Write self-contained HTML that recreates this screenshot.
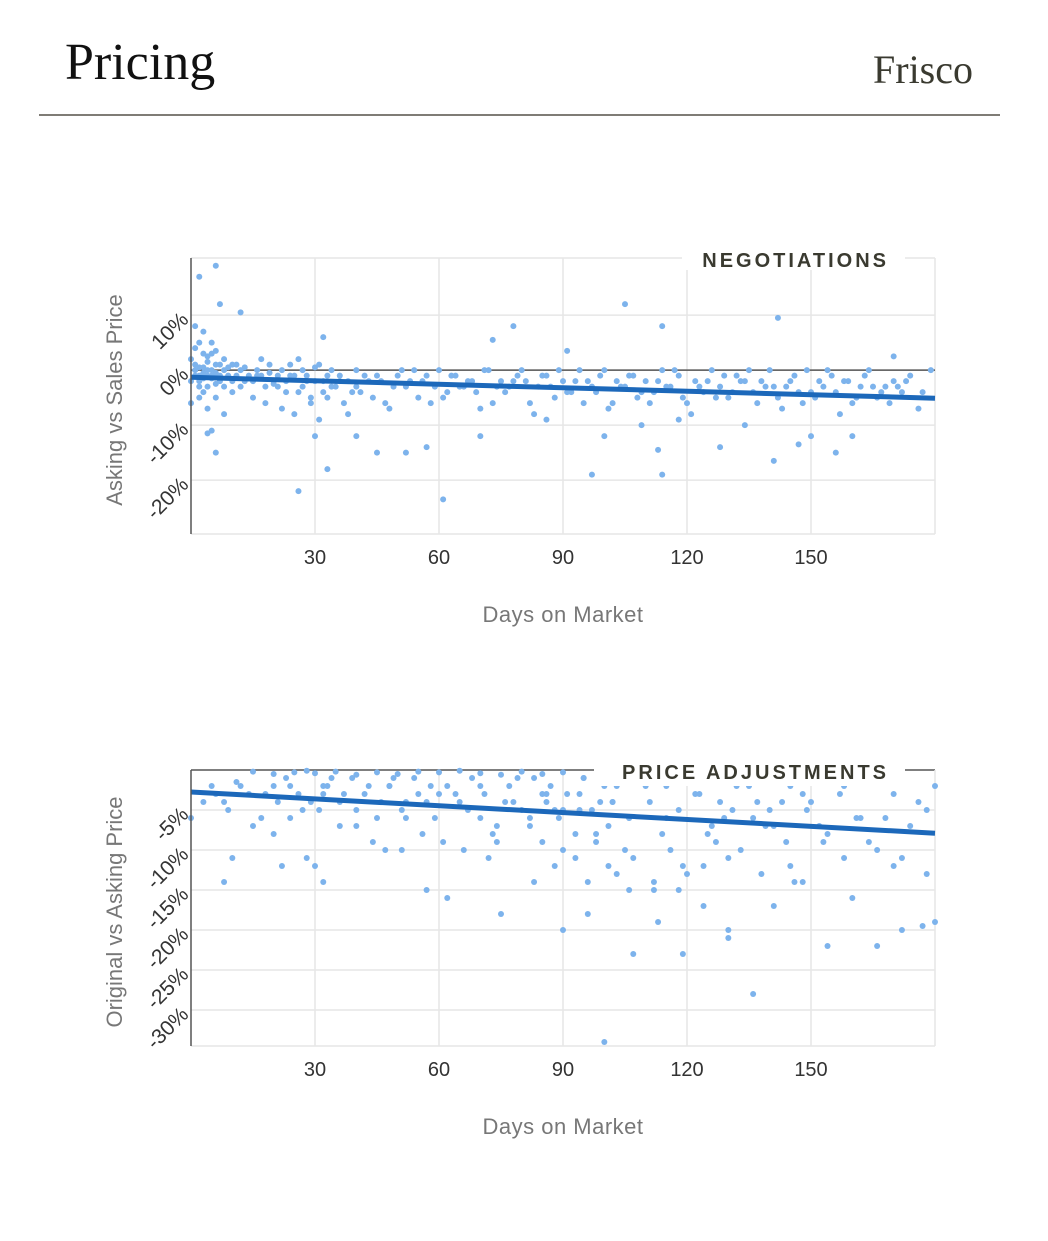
<!DOCTYPE html>
<html><head><meta charset="utf-8">
<style>
body{margin:0;background:#fff;width:1048px;height:1236px;overflow:hidden;}
svg text{font-family:"Liberation Sans",sans-serif;}
</style></head>
<body>
<svg id="root" width="1048" height="1236" viewBox="0 0 1048 1236" xmlns="http://www.w3.org/2000/svg">
<text x="65" y="79" style="font-family:'Liberation Serif',serif" font-size="52" fill="#111">Pricing</text>
<text x="973" y="83" text-anchor="end" style="font-family:'Liberation Serif',serif" font-size="40" fill="#3a3a30">Frisco</text>
<line x1="39" y1="115" x2="1000" y2="115" stroke="#555048" stroke-width="1.5"/>
<g id="c1"></g>
<g id="c2"></g>
</svg>
<script>
const days1=[0,1,1,2,2,3,3,4,4,5, 0,1,2,2,3,4,5,5,6,6, 1,2,3,4,5,6,7,7,8,8, 3,4,5,6,7,8,9,9,10,10,
0,2,4,6,8,10,11,12,13,14, 11,12,13,14,15,16,17,18,19,20, 15,16,17,18,19,20,21,22,23,24, 21,22,23,24,25,26,27,28,29,30,
25,26,27,28,29,30,31,32,33,34, 31,32,33,34,35,36,37,38,39,40, 36,38,40,42,44,46,48,50,52,54, 41,43,45,47,49,51,53,55,57,59,
56,58,60,62,64,66,68,70,72,74, 61,63,65,67,69,71,73,75,77,79, 76,78,80,82,84,86,88,90,92,94, 81,83,85,87,89,91,93,95,97,99,
96,98,100,102,104,106,108,110,112,114, 101,103,105,107,109,111,113,115,117,119, 116,118,120,122,124,126,128,130,132,134,
121,123,125,127,129,131,133,135,137,139, 136,138,140,142,144,146,148,150,152,154, 141,143,145,147,149,151,153,155,157,159,
156,158,160,162,164,166,168,170,172,174, 161,165,169,173,177,179,176,171,163,167,
2,6,7,12,1,3,5,6,4,26, 61,105,114,142,78,73,32,97,114,33, 147,141,156,160,113,128,91,170,40,52, 57,70,86,100,109,118,134,150,30,45];
const pct1=[2,-1,4,0.5,-2,3,-0.5,1.5,-3,0, -2,1,-1,5,-1.5,2.5,-1,3,1,-2.5, 0,-3,0.5,-1,5,-0.5,1,-2,0,2, -4,0,-1.5,3.5,-1,-3,0.5,-1,1,-2,
-6,-5,-7,-5,-8,-4,-1,0,-2,-1, 1,-3,0.5,-1.5,-2,0,-1,-3,1,-2, -5,-1,2,-6,-0.5,-2.5,-1,0,-4,-1, -3,-7,-2,1,-1,-4,0,-2,-5,0.5,
-8,2,-3,-1,-6,-2,1,-4,-1,-3, -9,-2,-5,0,-3,-1,-6,-2,-4,0, -2,-8,-3,-1,-5,-2,-7,-1,-3,0, -4,-2,-1,-6,-3,0,-2,-5,-1,-3,
-2,-6,0,-4,-1,-3,-2,-7,0,-3, -5,-1,-3,-2,-4,0,-6,-2,-3,-1, -4,-2,0,-6,-3,-1,-5,-2,-4,0, -2,-8,-1,-3,0,-4,-2,-6,-3,-1,
-2,-4,0,-6,-3,-1,-5,-2,-4,0, -7,-2,-3,-1,-4,-6,-2,-3,0,-5, -3,-1,-6,-2,-4,0,-3,-5,-1,-2,
-8,-3,-2,-5,-1,-4,-2,0,-6,-3, -4,-2,0,-5,-3,-1,-6,-4,-2,0, -3,-7,-2,-4,0,-5,-3,-1,-8,-2,
-4,-2,-6,-3,0,-5,-3,-2,-4,-1, -5,-3,-6,-2,-4,0,-7,-3,-1,-4,
17,19,12,10.5,8,7,-11,-15,-11.5,-22, -23.5,12,8,9.5,8,5.5,6,-19,-19,-18, -13.5,-16.5,-15,-12,-14.5,-14,3.5,2.5,-12,-15, -14,-12,-9,-12,-10,-9,-10,-12,-12,-15];
const trend1=[-1.3,-5.1];
const ticks1=[10,0,-10,-20];
const tickLabels1=["10%","0%","-10%","-20%"];

const days2=[15,20,25,28,30,35,40,45,50,55, 60,65,70,75,80,85,90,95,100,105, 110,115,120,125,130,135,140,145,150,160,
0,3,6,9,12,15,18,21,24,27, 5,8,11,14,17,20,23,26,29,32, 31,34,37,40,43,46,49,52,55,58, 33,36,39,42,45,48,51,54,57,60,
59,62,65,68,71,74,77,80,83,86, 61,64,67,70,73,76,79,82,85,88, 87,89,91,93,95,97,99,101,103,105, 90,94,98,102,106,110,114,118,122,126,
107,111,115,119,123,127,131,135,139,143, 125,129,133,137,141,145,149,153,157,161, 150,154,158,162,166,170,174,178,180,164,
168,172,176,152,148,144,140,136,132,128, 20,24,28,32,36,40,44,48,52,56, 70,74,78,82,86,90,94,98,102,106,
10,22,30,47,51,66,72,85,93,101, 112,116,120,124,130,138,146,158,170,178, 8,32,57,62,75,83,96,96,106,112,
90,100,107,113,119,130,136,141,154,160, 166,172,177,180,118,124,130,148,103,88];
const pct2=[-0.2,-0.5,-0.3,-0.1,-0.4,-0.2,-0.6,-0.3,-0.5,-0.2, -0.3,-0.1,-0.4,-0.6,-0.2,-0.5,-0.3,-1,-2,-1.5, -1,-2,-0.5,-1,-1.5,-0.8,-1,-2,-1.2,-0.5,
-6,-4,-3,-5,-2,-7,-3,-4,-2,-5, -2,-4,-1.5,-3,-6,-2,-1,-3,-4,-2, -5,-1,-3,-7,-2,-4,-1,-6,-3,-2, -2,-4,-1,-3,-6,-2,-5,-1,-4,-3,
-6,-2,-4,-1,-3,-7,-2,-5,-1,-4, -9,-3,-5,-2,-8,-4,-1,-6,-3,-5, -2,-6,-3,-8,-1,-5,-4,-7,-2,-10, -5,-3,-9,-4,-6,-2,-8,-5,-3,-7,
-11,-4,-6,-12,-3,-9,-5,-2,-7,-4, -8,-6,-10,-4,-7,-12,-5,-9,-3,-6, -4,-8,-2,-6,-10,-3,-7,-5,-2,-9,
-6,-11,-4,-7,-3,-9,-5,-6,-2,-4, -8,-6,-11,-3,-7,-5,-9,-2,-4,-8, -6,-9,-4,-7,-3,-10,-5,-8,-4,-6,
-11,-12,-12,-10,-10,-10,-11,-9,-11,-12, -14,-10,-13,-12,-11,-13,-14,-11,-12,-13, -14,-14,-15,-16,-18,-14,-14,-18,-15,-15,
-20,-34,-23,-19,-23,-21,-28,-17,-22,-16, -22,-20,-19.5,-19,-15,-17,-20,-14,-13,-12];
const trend2=[-2.75,-7.9];
const ticks2=[-5,-10,-15,-20,-25,-30];
const tickLabels2=["-5%","-10%","-15%","-20%","-25%","-30%"];
const xTicks=[30,60,90,120,150];

const NS="http://www.w3.org/2000/svg";
function mk(tag,attrs,parent){const e=document.createElementNS(NS,tag);for(const k in attrs)e.setAttribute(k,attrs[k]);parent.appendChild(e);return e;}

function chart(g,opt){
  const X0=191,X1=935,Y0=opt.top,Y1=opt.top+276;
  const xs=d=>X0+(d/180)*(X1-X0);
  const ys=v=>Y0+(opt.ymax-v)/(opt.ymax-opt.ymin)*(Y1-Y0);
  xTicks.forEach(t=>{const l=mk('line',{x1:xs(t),x2:xs(t),y1:Y0,y2:Y1,stroke:'#e6e6e6','stroke-width':1.5},g);
    
    
    const tx=mk('text',{x:xs(t),y:Y1+30,'text-anchor':'middle','font-size':20,fill:'#333'},g);tx.textContent=t;
    
    });
  opt.ticks.forEach((t,i)=>{const l=mk('line',{x1:X0,x2:X1,y1:ys(t),y2:ys(t),stroke:'#e6e6e6','stroke-width':1.5},g);
    
    
    const tx=mk('text',{x:184,y:ys(t)+8,'text-anchor':'end','font-size':21,fill:'#333',transform:`rotate(-45 184 ${ys(t)})`},g);tx.textContent=opt.tickLabels[i];
    
    });
  mk('line',{x1:X0,x2:X1,y1:Y0,y2:Y0,stroke:opt.topDark?'#555':'#e6e6e6','stroke-width':1.5},g);
  mk('line',{x1:X0,x2:X1,y1:Y1,y2:Y1,stroke:'#e6e6e6','stroke-width':1.5},g);
  mk('line',{x1:X1,x2:X1,y1:Y0,y2:Y1,stroke:'#e6e6e6','stroke-width':1.5},g);
  if(opt.zeroLine){mk('line',{x1:X0,x2:X1,y1:ys(0),y2:ys(0),stroke:'#555','stroke-width':1.5},g);}
  const n=Math.min(opt.days.length,opt.pct.length);
  for(let i=0;i<n;i++){
    const c=mk('circle',{cx:xs(opt.days[i]),cy:ys(opt.pct[i]),r:3,fill:'#7db3ec'},g);
    
    
  }
  const tl=mk('line',{x1:xs(0),y1:ys(opt.trend[0]),x2:xs(180),y2:ys(opt.trend[1]),stroke:'#1c68ba','stroke-width':5},g);
  
  
  mk('line',{x1:X0,x2:X0,y1:Y0,y2:Y1,stroke:'#555','stroke-width':1.5},g);
  mk('rect',{x:opt.lblX-12,y:Y0-14,width:X1-opt.lblX-18,height:opt.lblH,fill:'#fff'},g);
  const lt=mk('text',{x:889,y:Y0+9,'text-anchor':'end','font-size':20,'font-weight':'bold','letter-spacing':'3',fill:'#3a3a30'},g);
  lt.textContent=opt.label;
  
  
  const xt=mk('text',{x:563,y:Y1+88,'text-anchor':'middle','font-size':22,fill:'#777','letter-spacing':'0.5'},g);xt.textContent='Days on Market';
  
  
  const yt=mk('text',{x:0,y:0,'text-anchor':'middle','font-size':22,fill:'#777',transform:`translate(122 ${(Y0+Y1)/2+4}) rotate(-90)`},g);yt.textContent=opt.ytitle;
  
  
}
chart(document.getElementById('c1'),{top:258,ymax:20.4,ymin:-29.8,days:days1,pct:pct1,trend:trend1,ticks:ticks1,tickLabels:tickLabels1,zeroLine:true,topDark:false,label:'NEGOTIATIONS',lblX:694,lblH:26,ytitle:'Asking vs Sales Price'});
chart(document.getElementById('c2'),{top:770,ymax:0,ymin:-34.5,days:days2,pct:pct2,trend:trend2,ticks:ticks2,tickLabels:tickLabels2,zeroLine:false,topDark:true,label:'PRICE ADJUSTMENTS',lblX:606,lblH:30,ytitle:'Original vs Asking Price'});
</script>
</body></html>
